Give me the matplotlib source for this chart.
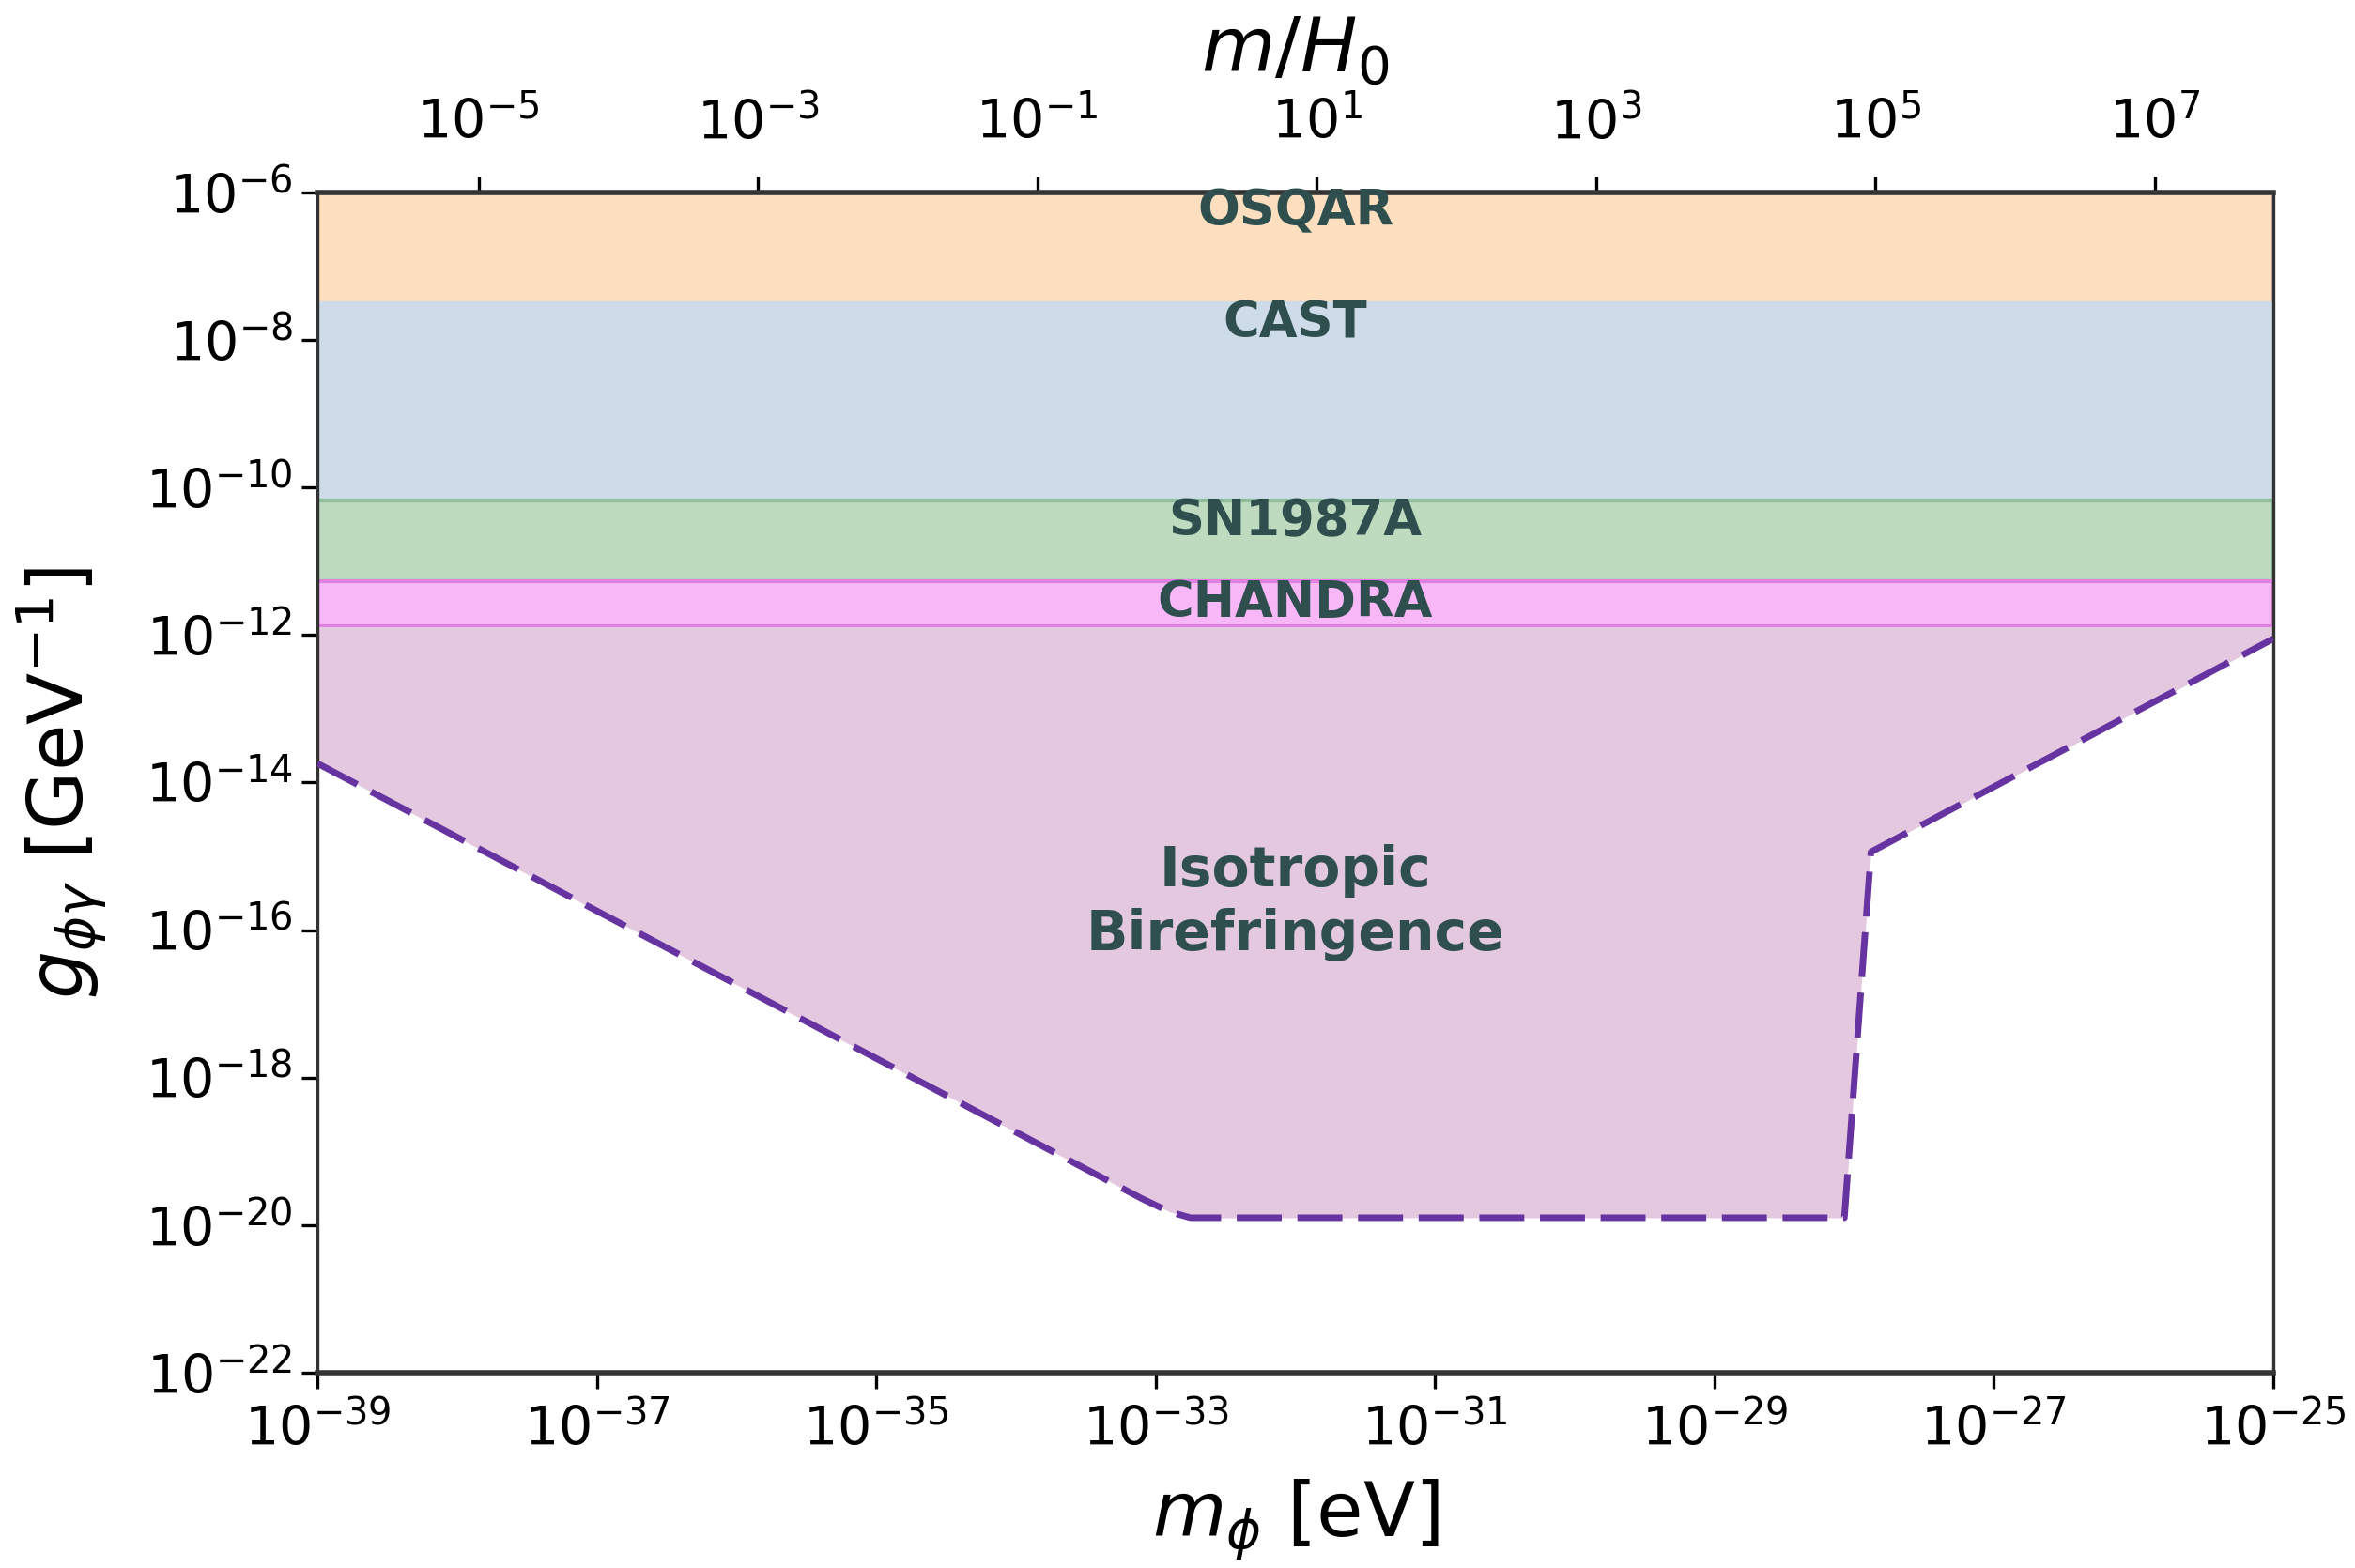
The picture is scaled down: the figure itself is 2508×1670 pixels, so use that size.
import numpy as np
import matplotlib
matplotlib.use("Agg")
import matplotlib.pyplot as plt
from matplotlib.ticker import NullLocator

# Hubble constant in eV, used for the top m/H0 axis
H0 = 1.42e-33

# Band limits on g [GeV^-1]
band_names = ["OSQAR", "CAST", "SN1987A", "CHANDRA"]
band_upper = [1e-6, 3.2e-8, 6.6e-11, 5.3e-12]
band_lower = [3.2e-8, 6.6e-11, 5.3e-12, 1.3e-12]
band_face = ["#fddfc0", "#cedbe8", "#bedbbf", "#f8b8f8"]
band_edge = ["#d8bca4", "#cedbe8", "#8fbf9c", "#e080e0"]
band_label_y = [5.5e-7, 1.7e-8, 3.5e-11, 2.75e-12]

# Isotropic birefringence bound (dashed line), log10 values
iso_logm = [-39.0, -33.1, -32.9, -32.75, -32.6, -28.07, -27.88, -25.0]
iso_logg = [-13.74, -19.64, -19.82, -19.9, -19.9, -19.9, -14.94, -12.05]

label_x = 1e-32

fig = plt.figure(figsize=(12.54, 8.35), dpi=200)
ax = fig.add_axes([0.1348, 0.1246, 0.8305, 0.7526])
ax.set_xscale("log")
ax.set_yscale("log")
ax.set_xlim(1e-39, 1e-25)
ax.set_ylim(1e-22, 1e-6)

for name, up, lo, fc, ec, ly in zip(band_names, band_upper, band_lower,
                                    band_face, band_edge, band_label_y):
    ax.axhspan(lo, up, facecolor=fc, edgecolor=ec, lw=1.5, zorder=1)
    ax.text(label_x, ly, name, ha="center", va="center", fontsize=19,
            fontweight="bold", color="#2f4f4f", zorder=4)

m_iso = 10.0 ** np.array(iso_logm)
g_iso = 10.0 ** np.array(iso_logg)
ax.fill_between(m_iso, g_iso, band_lower[-1], color="#e3c8e0", lw=0, zorder=1)
ax.plot(m_iso, g_iso, color="#6633a0", lw=2.5, ls=(0, (6.9, 2.4)), zorder=3)
ax.text(label_x, 10 ** -15.63, "Isotropic\nBirefringence", ha="center",
        va="center", fontsize=21, fontweight="bold", color="#2f4f4f",
        linespacing=1.25, zorder=4)

ax.set_xticks(10.0 ** np.arange(-39, -24, 2))
ax.set_yticks(10.0 ** np.arange(-22, -5, 2))
ax.xaxis.set_minor_locator(NullLocator())
ax.yaxis.set_minor_locator(NullLocator())
ax.tick_params(labelsize=20.5, length=6, width=1.2)
ax.tick_params(axis="x", pad=6)

for side in ["top", "bottom"]:
    ax.spines[side].set_linewidth(2.0)
for side in ["left", "right"]:
    ax.spines[side].set_linewidth(1.2)
for s in ax.spines.values():
    s.set_color("#333333")

ax.set_xlabel(r"$m_\phi$ [eV]", fontsize=29, labelpad=8)
ax.set_ylabel(r"$g_{\phi\gamma}$ [GeV$^{-1}$]", fontsize=29, labelpad=14)

top = ax.secondary_xaxis("top", functions=(lambda m: m / H0, lambda r: r * H0))
top.set_xticks(10.0 ** np.arange(-5, 8, 2))
top.xaxis.set_minor_locator(NullLocator())
top.tick_params(labelsize=20.5, length=6, width=1.2, pad=10)
top.set_xlabel(r"$m/H_0$", fontsize=29, labelpad=10)

fig.savefig("out.png", dpi=200)
